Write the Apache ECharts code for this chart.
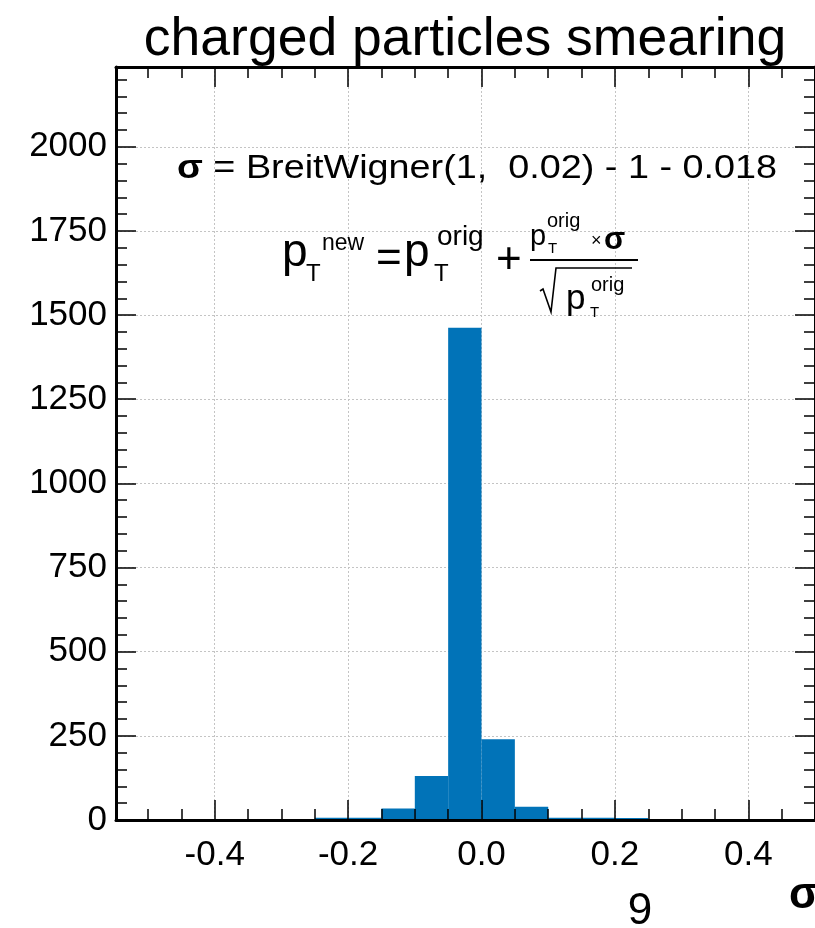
<!DOCTYPE html>
<html>
<head>
<meta charset="utf-8">
<script src="https://cdn.jsdelivr.net/npm/echarts@6/dist/echarts.min.js"></script>
<style>
  html, body { margin: 0; padding: 0; background: #fff; }
  #chart { width: 815px; height: 928px; }
</style>
</head>
<body>
<div id="chart"></div>
<script>
// Histogram of the smearing factor sigma (bin width 0.05)
const binEdges  = [-0.25, -0.2, -0.15, -0.1, -0.05, 0, 0.05, 0.1, 0.15, 0.2, 0.25];
const binCounts = [7, 7, 34, 131, 1462, 240, 39, 7, 7, 6];

// Axis extents and tick positions
const xRange = [-0.548, 0.5];
const yRange = [0, 2237];
const xMajorTicks = [-0.4, -0.2, 0, 0.2, 0.4];
const xMinorTicks = [-0.5, -0.45, -0.35, -0.3, -0.25, -0.15, -0.1, -0.05,
                     0.05, 0.1, 0.15, 0.25, 0.3, 0.35, 0.45];
const yMajorTicks = [0, 250, 500, 750, 1000, 1250, 1500, 1750, 2000];
const yMinorTicks = [50, 100, 150, 200, 300, 350, 400, 450, 550, 600, 650, 700,
                     800, 850, 900, 950, 1050, 1100, 1150, 1200, 1300, 1350, 1400, 1450,
                     1550, 1600, 1650, 1700, 1800, 1850, 1900, 1950, 2050, 2100, 2150, 2200];

const FONT = '"Liberation Sans", Arial, Helvetica, sans-serif';
const BAR_COLOR = '#0173b8';
const MID_K = 0.29; // distance from text middle to baseline, in em

const chart = echarts.init(document.getElementById('chart'), null, { renderer: 'canvas' });

// Axis that only carries the dotted grid and the tick labels (drawn below the bars)
function gridAxis(dim, position, range, ticks, fmt) {
  return {
    type: 'value', position, min: range[0], max: range[1], z: 0,
    axisLine: { show: false, onZero: false },
    axisTick: { show: false, customValues: ticks },
    axisLabel: {
      show: true, customValues: ticks, margin: dim === 'x' ? 18 : 9,
      color: '#000', fontFamily: FONT, fontSize: 35, formatter: fmt
    },
    splitLine: { show: true, lineStyle: { color: '#c4c4c4', width: 1, type: [2, 2] } }
  };
}

// Axis that draws the frame edge and inward ticks (drawn above the bars)
function tickAxis(position, range, ticks, len, withLine) {
  return {
    type: 'value', position, min: range[0], max: range[1], z: 10,
    axisLine: { show: withLine, onZero: false, lineStyle: { color: '#000', width: 3 } },
    axisTick: { show: true, inside: true, length: len, customValues: ticks,
                lineStyle: { color: '#000', width: 1.5 } },
    axisLabel: { show: false },
    splitLine: { show: false }
  };
}

const histData = binCounts.map((c, i) => [binEdges[i], binEdges[i + 1], c]);

// Annotation text helper: x = left (or anchor) position, base = baseline y
function txt(text, x, base, size, opt) {
  opt = opt || {};
  return {
    type: 'text', z: 20, silent: true,
    style: {
      text, x, y: base - MID_K * size,
      fill: '#000',
      font: (opt.bold ? 'bold ' : '') + size + 'px ' + FONT,
      textAlign: opt.align || 'left',
      textVerticalAlign: 'middle'
    }
  };
}

// Sigma definition line, stretched horizontally to span a given width
const defSize = 34;
const defPlain = ' = BreitWigner(1,  0.02) - 1 - 0.018';
const measureCtx = document.createElement('canvas').getContext('2d');
measureCtx.font = 'bold ' + defSize + 'px ' + FONT;
const sigW = measureCtx.measureText('σ').width;
measureCtx.font = defSize + 'px ' + FONT;
const plainW = measureCtx.measureText(defPlain).width;
const defScale = 600 / (sigW + plainW);
const defBase = 178;

const graphics = [
  // title
  txt('charged particles smearing', 465, 56, 53.5, { align: 'center' }),

  // sigma definition
  {
    type: 'text', z: 20, silent: true,
    x: 177, y: defBase - MID_K * defSize, scaleX: defScale, scaleY: 1,
    style: {
      text: '{b|σ}' + defPlain,
      x: 0, y: 0, fill: '#000',
      font: defSize + 'px ' + FONT,
      textAlign: 'left', textVerticalAlign: 'middle',
      rich: { b: { fontWeight: 'bold', fontSize: defSize, fontFamily: FONT, fill: '#000' } }
    }
  },

  // p_T^new = p_T^orig + p_T^orig x sigma / sqrt(p_T^orig)
  txt('p', 282, 267, 46),
  txt('T', 306, 281, 24),
  txt('new', 322, 250, 23),
  txt('=', 376, 273, 44),
  txt('p', 404, 267, 46),
  txt('T', 434, 281, 24),
  txt('orig', 437, 245, 28),
  txt('+', 496, 274, 44),
  txt('p', 530, 245, 29),
  txt('T', 548, 253, 15),
  txt('orig', 547, 227, 20),
  txt('×', 591, 246, 18),
  txt('σ', 604, 249, 31, { bold: true }),
  {
    type: 'line', z: 20, silent: true,
    shape: { x1: 530, y1: 260, x2: 638, y2: 260 },
    style: { stroke: '#000', lineWidth: 2 }
  },
  {
    type: 'polyline', z: 20, silent: true,
    shape: { points: [[540, 291], [543, 289], [551, 312], [556, 268], [632, 268]] },
    style: { stroke: '#000', lineWidth: 1.6, fill: null }
  },
  txt('p', 566, 309, 35),
  txt('T', 590, 317, 15),
  txt('orig', 591, 291, 20),

  // axis title and page mark
  txt('σ', 819, 909, 44, { bold: true, align: 'right' }),
  txt('9', 640, 925, 44, { align: 'center' })
];

chart.setOption({
  animation: false,
  backgroundColor: '#fff',
  grid: { left: 116, top: 67, right: -5.5, bottom: 108, containLabel: false },
  xAxis: [
    gridAxis('x', 'bottom', xRange, xMajorTicks, v => v.toFixed(1)),
    tickAxis('bottom', xRange, xMajorTicks, 20, true),
    tickAxis('bottom', xRange, xMinorTicks, 11, false),
    tickAxis('top', xRange, xMajorTicks, 20, true),
    tickAxis('top', xRange, xMinorTicks, 11, false)
  ],
  yAxis: [
    gridAxis('y', 'left', yRange, yMajorTicks, v => String(v)),
    tickAxis('left', yRange, yMajorTicks, 20, true),
    tickAxis('left', yRange, yMinorTicks, 11, false),
    tickAxis('right', yRange, yMajorTicks, 20, true),
    tickAxis('right', yRange, yMinorTicks, 11, false)
  ],
  series: [{
    type: 'custom',
    xAxisIndex: 0, yAxisIndex: 0, z: 2,
    encode: { x: [0, 1], y: 2 },
    data: histData,
    renderItem: function (params, api) {
      const topLeft = api.coord([api.value(0), api.value(2)]);
      const botRight = api.coord([api.value(1), 0]);
      return {
        type: 'rect',
        shape: { x: topLeft[0], y: topLeft[1],
                 width: botRight[0] - topLeft[0], height: botRight[1] - topLeft[1] },
        style: { fill: BAR_COLOR }
      };
    }
  }],
  graphic: graphics
});
</script>
</body>
</html>
